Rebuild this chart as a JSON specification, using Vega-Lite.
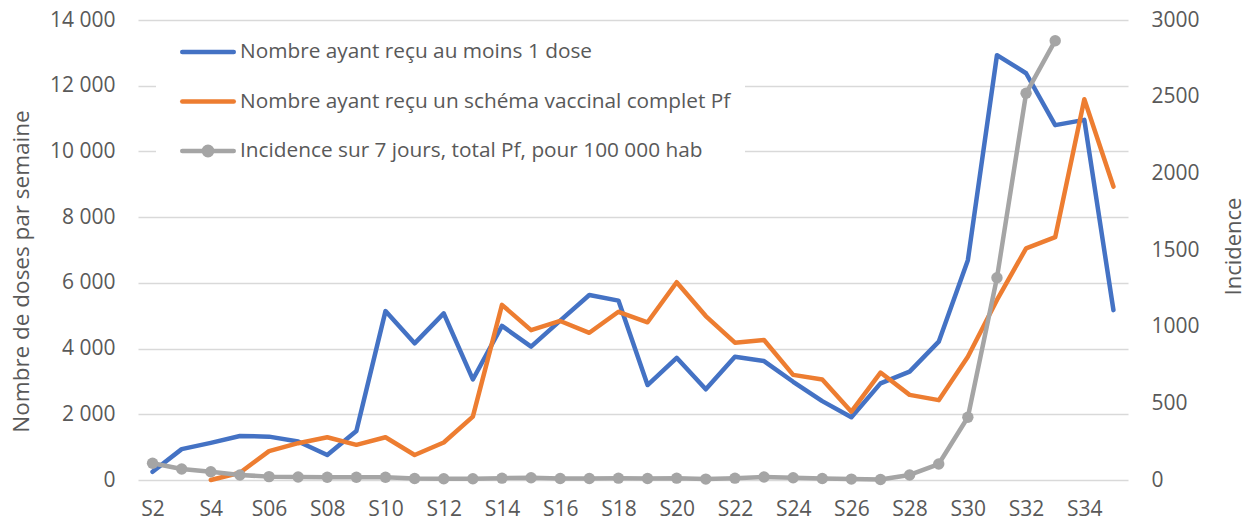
{
  "$schema": "https://vega.github.io/schema/vega-lite/v6.json",
  "width": 990,
  "height": 460,
  "autosize": {"type": "none"},
  "padding": {"left": 138, "top": 20, "right": 120, "bottom": 42},
  "background": "white",
  "config": {
    "font": "Open Sans",
    "view": {"stroke": null},
    "axis": {"labelColor": "#595959", "titleColor": "#595959", "labelFontSize": 21, "titleFontSize": 21, "titleFontWeight": "normal", "domain": false, "ticks": false}
  },
  "data": {"values": [
    {"semaine":"S2","serie":"Nombre ayant reçu au moins 1 dose","valeur":250},
    {"semaine":"S3","serie":"Nombre ayant reçu au moins 1 dose","valeur":940},
    {"semaine":"S4","serie":"Nombre ayant reçu au moins 1 dose","valeur":1130},
    {"semaine":"S5","serie":"Nombre ayant reçu au moins 1 dose","valeur":1340},
    {"semaine":"S06","serie":"Nombre ayant reçu au moins 1 dose","valeur":1320},
    {"semaine":"S07","serie":"Nombre ayant reçu au moins 1 dose","valeur":1170},
    {"semaine":"S08","serie":"Nombre ayant reçu au moins 1 dose","valeur":760},
    {"semaine":"S09","serie":"Nombre ayant reçu au moins 1 dose","valeur":1490},
    {"semaine":"S10","serie":"Nombre ayant reçu au moins 1 dose","valeur":5140},
    {"semaine":"S11","serie":"Nombre ayant reçu au moins 1 dose","valeur":4160},
    {"semaine":"S12","serie":"Nombre ayant reçu au moins 1 dose","valeur":5070},
    {"semaine":"S13","serie":"Nombre ayant reçu au moins 1 dose","valeur":3060},
    {"semaine":"S14","serie":"Nombre ayant reçu au moins 1 dose","valeur":4690},
    {"semaine":"S15","serie":"Nombre ayant reçu au moins 1 dose","valeur":4060},
    {"semaine":"S16","serie":"Nombre ayant reçu au moins 1 dose","valeur":4850},
    {"semaine":"S17","serie":"Nombre ayant reçu au moins 1 dose","valeur":5630},
    {"semaine":"S18","serie":"Nombre ayant reçu au moins 1 dose","valeur":5460},
    {"semaine":"S19","serie":"Nombre ayant reçu au moins 1 dose","valeur":2890},
    {"semaine":"S20","serie":"Nombre ayant reçu au moins 1 dose","valeur":3720},
    {"semaine":"S21","serie":"Nombre ayant reçu au moins 1 dose","valeur":2760},
    {"semaine":"S22","serie":"Nombre ayant reçu au moins 1 dose","valeur":3750},
    {"semaine":"S23","serie":"Nombre ayant reçu au moins 1 dose","valeur":3620},
    {"semaine":"S24","serie":"Nombre ayant reçu au moins 1 dose","valeur":2990},
    {"semaine":"S25","serie":"Nombre ayant reçu au moins 1 dose","valeur":2400},
    {"semaine":"S26","serie":"Nombre ayant reçu au moins 1 dose","valeur":1910},
    {"semaine":"S27","serie":"Nombre ayant reçu au moins 1 dose","valeur":2940},
    {"semaine":"S28","serie":"Nombre ayant reçu au moins 1 dose","valeur":3300},
    {"semaine":"S29","serie":"Nombre ayant reçu au moins 1 dose","valeur":4210},
    {"semaine":"S30","serie":"Nombre ayant reçu au moins 1 dose","valeur":6690},
    {"semaine":"S31","serie":"Nombre ayant reçu au moins 1 dose","valeur":12930},
    {"semaine":"S32","serie":"Nombre ayant reçu au moins 1 dose","valeur":12380},
    {"semaine":"S33","serie":"Nombre ayant reçu au moins 1 dose","valeur":10800},
    {"semaine":"S34","serie":"Nombre ayant reçu au moins 1 dose","valeur":10960},
    {"semaine":"S35","serie":"Nombre ayant reçu au moins 1 dose","valeur":5170},
    {"semaine":"S4","serie":"Nombre ayant reçu un schéma vaccinal complet Pf","valeur":0},
    {"semaine":"S5","serie":"Nombre ayant reçu un schéma vaccinal complet Pf","valeur":220},
    {"semaine":"S06","serie":"Nombre ayant reçu un schéma vaccinal complet Pf","valeur":880},
    {"semaine":"S07","serie":"Nombre ayant reçu un schéma vaccinal complet Pf","valeur":1120},
    {"semaine":"S08","serie":"Nombre ayant reçu un schéma vaccinal complet Pf","valeur":1300},
    {"semaine":"S09","serie":"Nombre ayant reçu un schéma vaccinal complet Pf","valeur":1070},
    {"semaine":"S10","serie":"Nombre ayant reçu un schéma vaccinal complet Pf","valeur":1300},
    {"semaine":"S11","serie":"Nombre ayant reçu un schéma vaccinal complet Pf","valeur":760},
    {"semaine":"S12","serie":"Nombre ayant reçu un schéma vaccinal complet Pf","valeur":1140},
    {"semaine":"S13","serie":"Nombre ayant reçu un schéma vaccinal complet Pf","valeur":1930},
    {"semaine":"S14","serie":"Nombre ayant reçu un schéma vaccinal complet Pf","valeur":5330},
    {"semaine":"S15","serie":"Nombre ayant reçu un schéma vaccinal complet Pf","valeur":4560},
    {"semaine":"S16","serie":"Nombre ayant reçu un schéma vaccinal complet Pf","valeur":4840},
    {"semaine":"S17","serie":"Nombre ayant reçu un schéma vaccinal complet Pf","valeur":4480},
    {"semaine":"S18","serie":"Nombre ayant reçu un schéma vaccinal complet Pf","valeur":5120},
    {"semaine":"S19","serie":"Nombre ayant reçu un schéma vaccinal complet Pf","valeur":4800},
    {"semaine":"S20","serie":"Nombre ayant reçu un schéma vaccinal complet Pf","valeur":6020},
    {"semaine":"S21","serie":"Nombre ayant reçu un schéma vaccinal complet Pf","valeur":4990},
    {"semaine":"S22","serie":"Nombre ayant reçu un schéma vaccinal complet Pf","valeur":4180},
    {"semaine":"S23","serie":"Nombre ayant reçu un schéma vaccinal complet Pf","valeur":4260},
    {"semaine":"S24","serie":"Nombre ayant reçu un schéma vaccinal complet Pf","valeur":3200},
    {"semaine":"S25","serie":"Nombre ayant reçu un schéma vaccinal complet Pf","valeur":3060},
    {"semaine":"S26","serie":"Nombre ayant reçu un schéma vaccinal complet Pf","valeur":2080},
    {"semaine":"S27","serie":"Nombre ayant reçu un schéma vaccinal complet Pf","valeur":3270},
    {"semaine":"S28","serie":"Nombre ayant reçu un schéma vaccinal complet Pf","valeur":2590},
    {"semaine":"S29","serie":"Nombre ayant reçu un schéma vaccinal complet Pf","valeur":2430},
    {"semaine":"S30","serie":"Nombre ayant reçu un schéma vaccinal complet Pf","valeur":3750},
    {"semaine":"S31","serie":"Nombre ayant reçu un schéma vaccinal complet Pf","valeur":5480},
    {"semaine":"S32","serie":"Nombre ayant reçu un schéma vaccinal complet Pf","valeur":7050},
    {"semaine":"S33","serie":"Nombre ayant reçu un schéma vaccinal complet Pf","valeur":7390},
    {"semaine":"S34","serie":"Nombre ayant reçu un schéma vaccinal complet Pf","valeur":11590},
    {"semaine":"S35","serie":"Nombre ayant reçu un schéma vaccinal complet Pf","valeur":8930},
    {"semaine":"S2","serie":"Incidence sur 7 jours, total Pf, pour 100 000 hab","valeur":109},
    {"semaine":"S3","serie":"Incidence sur 7 jours, total Pf, pour 100 000 hab","valeur":72},
    {"semaine":"S4","serie":"Incidence sur 7 jours, total Pf, pour 100 000 hab","valeur":54},
    {"semaine":"S5","serie":"Incidence sur 7 jours, total Pf, pour 100 000 hab","valeur":33},
    {"semaine":"S06","serie":"Incidence sur 7 jours, total Pf, pour 100 000 hab","valeur":22},
    {"semaine":"S07","serie":"Incidence sur 7 jours, total Pf, pour 100 000 hab","valeur":20},
    {"semaine":"S08","serie":"Incidence sur 7 jours, total Pf, pour 100 000 hab","valeur":18},
    {"semaine":"S09","serie":"Incidence sur 7 jours, total Pf, pour 100 000 hab","valeur":18},
    {"semaine":"S10","serie":"Incidence sur 7 jours, total Pf, pour 100 000 hab","valeur":18},
    {"semaine":"S11","serie":"Incidence sur 7 jours, total Pf, pour 100 000 hab","valeur":10},
    {"semaine":"S12","serie":"Incidence sur 7 jours, total Pf, pour 100 000 hab","valeur":8},
    {"semaine":"S13","serie":"Incidence sur 7 jours, total Pf, pour 100 000 hab","valeur":8},
    {"semaine":"S14","serie":"Incidence sur 7 jours, total Pf, pour 100 000 hab","valeur":12},
    {"semaine":"S15","serie":"Incidence sur 7 jours, total Pf, pour 100 000 hab","valeur":15},
    {"semaine":"S16","serie":"Incidence sur 7 jours, total Pf, pour 100 000 hab","valeur":10},
    {"semaine":"S17","serie":"Incidence sur 7 jours, total Pf, pour 100 000 hab","valeur":10},
    {"semaine":"S18","serie":"Incidence sur 7 jours, total Pf, pour 100 000 hab","valeur":12},
    {"semaine":"S19","serie":"Incidence sur 7 jours, total Pf, pour 100 000 hab","valeur":10},
    {"semaine":"S20","serie":"Incidence sur 7 jours, total Pf, pour 100 000 hab","valeur":12},
    {"semaine":"S21","serie":"Incidence sur 7 jours, total Pf, pour 100 000 hab","valeur":6},
    {"semaine":"S22","serie":"Incidence sur 7 jours, total Pf, pour 100 000 hab","valeur":12},
    {"semaine":"S23","serie":"Incidence sur 7 jours, total Pf, pour 100 000 hab","valeur":20},
    {"semaine":"S24","serie":"Incidence sur 7 jours, total Pf, pour 100 000 hab","valeur":15},
    {"semaine":"S25","serie":"Incidence sur 7 jours, total Pf, pour 100 000 hab","valeur":10},
    {"semaine":"S26","serie":"Incidence sur 7 jours, total Pf, pour 100 000 hab","valeur":6},
    {"semaine":"S27","serie":"Incidence sur 7 jours, total Pf, pour 100 000 hab","valeur":3},
    {"semaine":"S28","serie":"Incidence sur 7 jours, total Pf, pour 100 000 hab","valeur":33},
    {"semaine":"S29","serie":"Incidence sur 7 jours, total Pf, pour 100 000 hab","valeur":104},
    {"semaine":"S30","serie":"Incidence sur 7 jours, total Pf, pour 100 000 hab","valeur":409},
    {"semaine":"S31","serie":"Incidence sur 7 jours, total Pf, pour 100 000 hab","valeur":1319},
    {"semaine":"S32","serie":"Incidence sur 7 jours, total Pf, pour 100 000 hab","valeur":2522},
    {"semaine":"S33","serie":"Incidence sur 7 jours, total Pf, pour 100 000 hab","valeur":2865}
  ]},
  "encoding": {
    "x": {
      "field": "semaine", "type": "ordinal",
      "scale": {"type": "point", "padding": 0.5, "domain": ["S2","S3","S4","S5","S06","S07","S08","S09","S10","S11","S12","S13","S14","S15","S16","S17","S18","S19","S20","S21","S22","S23","S24","S25","S26","S27","S28","S29","S30","S31","S32","S33","S34","S35"]},
      "axis": {"title": null, "labelAngle": 0, "grid": false, "labelPadding": 18, "values": ["S2","S4","S06","S08","S10","S12","S14","S16","S18","S20","S22","S24","S26","S28","S30","S32","S34"]}
    },
    "color": {
      "field": "serie", "type": "nominal",
      "scale": {
        "domain": ["Nombre ayant reçu au moins 1 dose", "Nombre ayant reçu un schéma vaccinal complet Pf", "Incidence sur 7 jours, total Pf, pour 100 000 hab"],
        "range": ["#4472C4", "#ED7D31", "#A5A5A5"]
      },
      "legend": {
        "title": null, "orient": "none", "legendX": 18, "legendY": 3,
        "fillColor": "white", "padding": 14, "symbolOffset": 10,
        "symbolType": "M-1,0H1", "symbolSize": 2652, "symbolStrokeWidth": 4.5,
        "clipHeight": 30, "rowPadding": 19.5, "labelOffset": 4,
        "labelFontSize": 20.8, "labelColor": "#595959", "labelLimit": 800,
        "encode": {"symbols": {"update": {
          "shape": {"signal": "datum.value == 'Incidence sur 7 jours, total Pf, pour 100 000 hab' ? 'M-1,0H1M0.165,0A0.165,0.165 0 1 1 -0.165,0A0.165,0.165 0 1 1 0.165,0Z' : 'M-1,0H1'"},
          "fill": {"signal": "datum.value == 'Incidence sur 7 jours, total Pf, pour 100 000 hab' ? '#A5A5A5' : 'transparent'"},
          "strokeCap": {"value": "round"}
        }}}
      }
    }
  },
  "layer": [
    {
      "transform": [{"filter": "datum.serie != 'Incidence sur 7 jours, total Pf, pour 100 000 hab'"}],
      "mark": {"type": "line", "strokeWidth": 4.5, "strokeCap": "round", "strokeJoin": "round"},
      "encoding": {
        "y": {
          "field": "valeur", "type": "quantitative",
          "scale": {"domain": [0, 14000], "nice": false},
          "axis": {
            "title": "Nombre de doses par semaine", "values": [0,2000,4000,6000,8000,10000,12000,14000],
            "labelExpr": "replace(format(datum.value, ','), ',', ' ')",
            "labelPadding": 23, "gridColor": "#D9D9D9", "gridWidth": 1.5,
            "titleFontSize": 22.5,
            "titleX": -117, "titleY": 251, "titleBaseline": "middle", "titleAngle": 270
          }
        }
      }
    },
    {
      "transform": [{"filter": "datum.serie == 'Incidence sur 7 jours, total Pf, pour 100 000 hab'"}],
      "mark": {"type": "line", "strokeWidth": 4.5, "strokeCap": "round", "strokeJoin": "round", "point": {"filled": true, "size": 130, "opacity": 1}},
      "encoding": {
        "y": {
          "field": "valeur", "type": "quantitative",
          "scale": {"domain": [0, 3000], "nice": false},
          "axis": {
            "orient": "right", "title": "Incidence", "values": [0,500,1000,1500,2000,2500,3000], "format": "d",
            "grid": false, "labelPadding": 23, "titleFontSize": 22,
            "titleX": 105, "titleY": 226, "titleBaseline": "middle", "titleAngle": 270
          }
        }
      }
    }
  ],
  "resolve": {"scale": {"y": "independent"}}
}
